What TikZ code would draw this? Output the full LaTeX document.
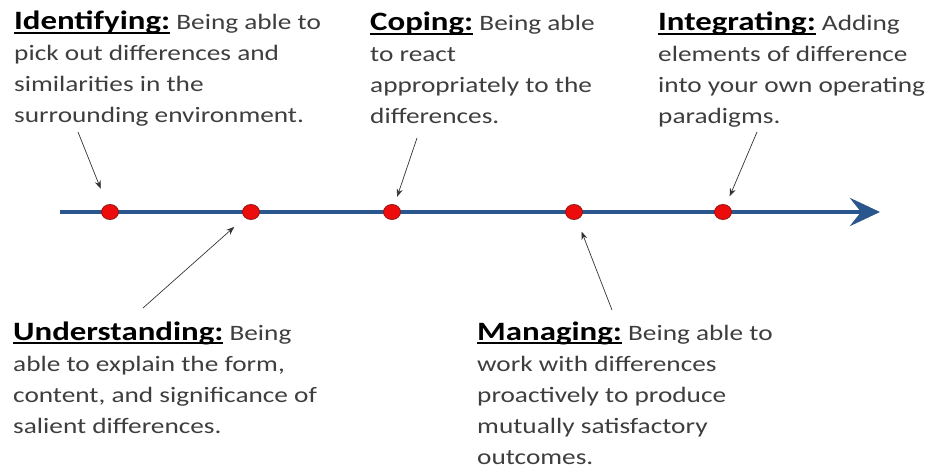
\documentclass[tikz,border=0pt]{standalone}
\usepackage{fontspec}
\setmainfont{Carlito}[FakeStretch=1.24]
\usetikzlibrary{arrows.meta}
\usetikzlibrary{shapes.geometric}

\definecolor{lineblue}{RGB}{42,86,142}
\definecolor{dotred}{RGB}{236,12,12}
\definecolor{dotrim}{RGB}{150,20,20}
\definecolor{bodygray}{RGB}{62,62,62}

\newsavebox\hdrbox
\newcommand{\hdr}[1]{\sbox\hdrbox{\color{black}\fontsize{26.5}{31}\selectfont\bfseries #1}%
  {\color{black}\rlap{\rule[-3.6pt]{\wd\hdrbox}{1.8pt}}}\usebox\hdrbox}

\tikzset{
  dot/.style={ellipse, draw=dotrim, fill=dotred, line width=0.8pt,
    minimum width=17pt, minimum height=15pt, inner sep=0pt},
  % base = baseline of the last line
  stage/.style={anchor=base west, align=left, inner sep=0pt, text=bodygray,
    font=\fontsize{22}{31}\selectfont},
  pointer/.style={draw=black!80, line width=0.7pt, -{Stealth[length=8pt,width=6pt]}}
}

\begin{document}
\begin{tikzpicture}[x=1pt, y=-1pt]
  \useasboundingbox (0,0) rectangle (929,465);

  % timeline
  \coordinate (start) at (60,212);
  \coordinate (end) at (880,212);
  \draw[line width=4.5pt, lineblue, -{Stealth[length=30pt,width=28pt,inset=11pt]}] (start) -- (end);

  % the five stages on the line
  \node[dot] (ident) at (110,212) {};
  \node[dot] (under) at (251,212) {};
  \node[dot] (coping) at (392,212) {};
  \node[dot] (manag) at (574,212) {};
  \node[dot] (integ) at (723,212) {};

  % texts above
  \node[stage] (identTxt) at (14,123) {\hdr{Identifying:} Being able to\\pick out differences and\\similarities in the\\surrounding environment.};
  \node[stage] (copingTxt) at (370,124) {\hdr{Coping:} Being able\\to react\\appropriately to the\\differences.};
  \node[stage] (integTxt) at (658,124) {\hdr{Integrating:} Adding\\elements of difference\\into your own operating\\paradigms.};

  % texts below
  \node[stage] (underTxt) at (13,433) {\hdr{Understanding:} Being\\able to explain the form,\\content, and significance of\\salient differences.};
  \node[stage] (managTxt) at (477,464) {\hdr{Managing:} Being able to\\work with differences\\proactively to produce\\mutually satisfactory\\outcomes.};

  % pointers
  \coordinate (identTail) at (78,132);
  \coordinate (copingTail) at (417,138);
  \coordinate (integTail) at (757,132);
  \coordinate (underTail) at (143,308);
  \coordinate (managTail) at (612,310);
  \draw[pointer, shorten >=17pt] (identTail) -- (ident);
  \draw[pointer, shorten >=8pt] (copingTail) -- (coping);
  \draw[pointer, shorten >=9pt] (integTail) -- (integ);
  \draw[pointer, shorten >=14pt] (underTail) -- (under);
  \draw[pointer, shorten >=13pt] (managTail) -- (manag);
\end{tikzpicture}
\end{document}
